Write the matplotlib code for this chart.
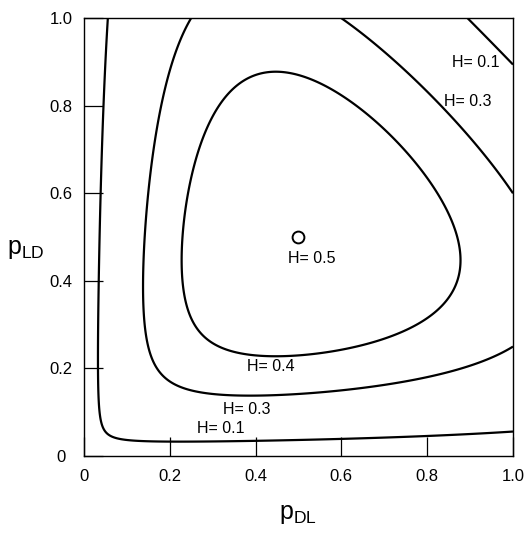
import numpy as np
import matplotlib
matplotlib.use("Agg")
import matplotlib.pyplot as plt

plt.rcParams['font.family'] = ['Liberation Sans', 'DejaVu Sans']
plt.rcParams['mathtext.fontset'] = 'custom'
plt.rcParams['mathtext.rm'] = 'Liberation Sans'

# Contour levels and labels
levels = [0.1, 0.3, 0.4]
max_point = (0.5, 0.5)
max_label = "H= 0.5"
label_texts = ["H= 0.1", "H= 0.3", "H= 0.1", "H= 0.3", "H= 0.4"]
label_x = [0.32, 0.38, 0.858, 0.84, 0.435]
label_y = [0.062, 0.107, 0.898, 0.81, 0.205]
label_ha = ["center", "center", "left", "left", "center"]
xticks = [0, 0.2, 0.4, 0.6, 0.8, 1.0]
xtick_labels = ["0", "0.2", "0.4", "0.6", "0.8", "1.0"]
yticks = [0, 0.2, 0.4, 0.6, 0.8, 1.0]
ytick_labels = ["0", "0.2", "0.4", "0.6", "0.8", "1.0"]

# H for a two-state chain: pi_D*2p_DL(1-p_DL) + pi_L*2p_LD(1-p_LD)
p_dl = np.linspace(1e-4, 1.0, 600)
p_ld = np.linspace(1e-4, 1.0, 600)
X, Y = np.meshgrid(p_dl, p_ld)
pi_d = Y / (X + Y)
pi_l = X / (X + Y)
H = pi_d * 2 * X * (1 - X) + pi_l * 2 * Y * (1 - Y)

fig = plt.figure(figsize=(5.24, 5.34), dpi=100)
ax = fig.add_axes([0.160, 0.146, 0.819, 0.820])
ax.contour(X, Y, H, levels=levels, colors='black', linewidths=1.6)
ax.plot(*max_point, marker='o', markersize=8.5, markerfacecolor='white',
        markeredgecolor='black', markeredgewidth=1.4, linestyle='none')
ax.text(max_point[0] + 0.03, max_point[1] - 0.05, max_label, ha='center',
        va='center', fontsize=11.5)
for t, x, y, ha in zip(label_texts, label_x, label_y, label_ha):
    ax.text(x, y, t, ha=ha, va='center', fontsize=11.5)

ax.set_xlim(0, 1)
ax.set_ylim(0, 1)
ax.set_xticks(xticks)
ax.set_xticklabels(xtick_labels, fontsize=12)
ax.set_yticks(yticks)
ax.set_yticklabels(ytick_labels, fontsize=12)
ax.tick_params(direction='in', length=14, width=0.9)
ax.tick_params(axis='x', pad=9.5)
ax.tick_params(axis='y', pad=16.5)
for lbl in ax.get_yticklabels():
    lbl.set_horizontalalignment('center')
for s in ax.spines.values():
    s.set_linewidth(1.0)

ax.text(0.50, -0.105, r'$\mathregular{p_{DL}}$', transform=ax.transAxes,
        ha='center', va='top', fontsize=18)
ax.text(-0.18, 0.50, r'$\mathregular{p_{LD}}$', transform=ax.transAxes,
        ha='left', va='top', fontsize=18)
fig.savefig("out.png", dpi=100)
